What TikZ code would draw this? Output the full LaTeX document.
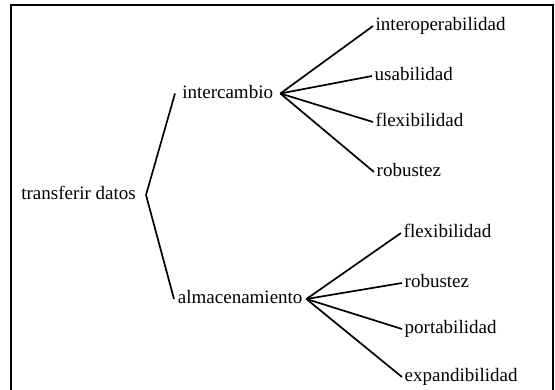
\documentclass[tikz,border=0pt]{standalone}
\usepackage{fontspec}
\setmainfont{Liberation Serif}
\begin{document}
\begin{tikzpicture}[x=1pt,y=-1pt,
  lbl/.style={font=\fontsize{19}{22}\selectfont, text height=13pt, text depth=4pt, inner ysep=1pt},
  leaf/.style={lbl, anchor=west, inner xsep=2.5pt},
  conn/.style={line width=1.7pt},
  frame/.style={line width=2pt}]
\useasboundingbox (0,0) rectangle (555,389);
\draw[frame] (11,390) -- (11,5) -- (553,5) -- (553,390);
\node[lbl, anchor=east, inner xsep=10pt] (root) at (146,195) {transferir datos};
\node[lbl, anchor=west, inner xsep=7.1pt] (inter) at (175,93.5) {intercambio};
\node[lbl, anchor=west, inner xsep=3.75pt] (alma) at (174,299) {almacenamiento};
\node[leaf] (a1) at (373,26) {interoperabilidad};
\node[leaf] (a2) at (372,76) {usabilidad};
\node[leaf] (a3) at (373,122) {flexibilidad};
\node[leaf] (a4) at (374,172) {robustez};
\node[leaf] (b1) at (401,233) {flexibilidad};
\node[leaf] (b2) at (402,283) {robustez};
\node[leaf] (b3) at (402,329) {portabilidad};
\node[leaf] (b4) at (402,377) {expandibilidad};
\draw[conn] (inter.west) -- (root.east) -- (alma.west);
\foreach \n in {a1,a2,a3,a4} \draw[conn] (inter.east) -- (\n.west);
\foreach \n in {b1,b2,b3,b4} \draw[conn] (alma.east) -- (\n.west);
\end{tikzpicture}
\end{document}
